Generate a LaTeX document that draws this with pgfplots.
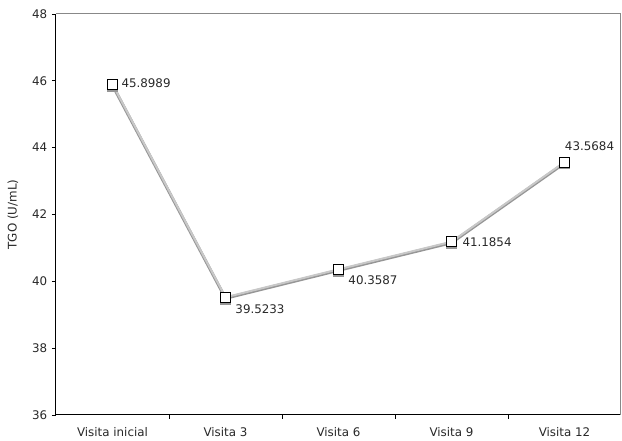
\documentclass[border=0pt]{standalone}
\usepackage{fontspec}
\setmainfont{DejaVu Sans}
\usepackage{pgfplots}
\pgfplotsset{compat=1.18}
\usepackage{pgfplotstable}

% TGO per visit
\pgfplotstableread{
x y
0 45.8989
1 39.5233
2 40.3587
3 41.1854
4 43.5684
}\tgo

\definecolor{framegray}{RGB}{136,136,136}
\definecolor{linelight}{RGB}{200,200,200}
\definecolor{lineshadow}{RGB}{150,150,150}
\definecolor{labeltext}{RGB}{40,40,40}

\begin{document}
\begin{tikzpicture}[font=\fontsize{8.9}{10.7}\selectfont]
\begin{axis}[
  name=ax, at={(0,0)}, anchor=south west,
  scale only axis, width=423.75pt, height=300.75pt,
  xmin=-0.5, xmax=4.5, ymin=36, ymax=48,
  axis x line*=bottom, axis y line*=left,
  axis line style={black, line width=0.75pt},
  ytick={36,38,...,48},
  xtick={0,...,4},
  xticklabels={Visita inicial, Visita 3, Visita 6, Visita 9, Visita 12},
  minor xtick={0.5,1.5,2.5,3.5},
  tick align=outside,
  major x tick style={draw=none},
  major tick length=3pt, minor tick length=3pt,
  tick style={black, line width=0.6pt},
  xticklabel style={yshift=-2.5pt, text=labeltext},
  yticklabel style={text=labeltext},
  /pgf/number format/.cd, fixed, precision=4, assume math mode=true, /pgfplots/.cd,
  ylabel={TGO (U/mL)},
  ylabel style={at={(axis description cs:-0.0761,0.5)}, anchor=center, text=labeltext},
  clip=false,
]
% line with its drop shadow
\addplot[draw=lineshadow, line width=2.25pt, transform canvas={yshift=-0.75pt}] table[x=x, y=y] {\tgo};
\addplot[draw=linelight, line width=1.5pt] table[x=x, y=y] {\tgo};
% marker shadows
\addplot[only marks, mark=square*, mark size=3.75pt,
  mark options={fill=lineshadow, draw=lineshadow, xshift=-0.4pt, yshift=-1.2pt}] table[x=x, y=y] {\tgo};
% markers with value labels
\addplot[only marks, mark=square*, mark size=3.75pt,
  mark options={fill=white, draw=black, line width=0.75pt},
  point meta=y,
  nodes near coords,
  nodes near coords style={anchor=west, inner sep=0pt, text=labeltext},
  coordinate style/.condition={x==0}{xshift=6.4pt, yshift=0.75pt},
  coordinate style/.condition={x==1}{xshift=7.1pt, yshift=-8.8pt},
  coordinate style/.condition={x==2}{xshift=7.1pt, yshift=-8pt},
  coordinate style/.condition={x==3}{xshift=7.9pt},
  coordinate style/.condition={x==4}{yshift=12pt},
] table[x=x, y=y] {\tgo};
\end{axis}
\draw[framegray, line width=0.75pt] (ax.north west) -- (ax.north east) -- (ax.south east);
\path (ax.south west) ++(-42pt,-18.75pt) rectangle ++(466.5pt,330pt);
\end{tikzpicture}
\end{document}
